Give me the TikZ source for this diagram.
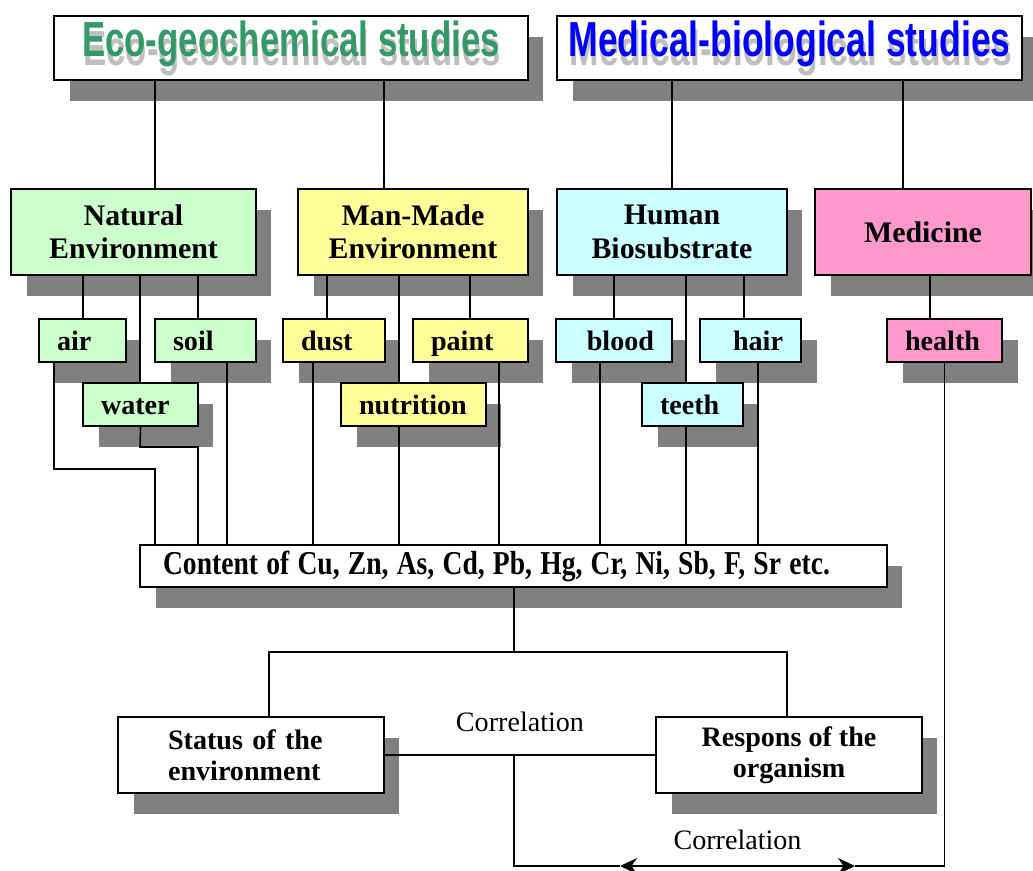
\documentclass[tikz,border=0pt]{standalone}
\usepackage{fontspec}
\setmainfont{Liberation Serif}
\newfontfamily\titlefont{Liberation Sans}
\usetikzlibrary{arrows.meta}
\usetikzlibrary{shadows}
\definecolor{natgreen}{HTML}{CCFFCC}
\definecolor{manyellow}{HTML}{FFFF99}
\definecolor{biocyan}{HTML}{CCFFFF}
\definecolor{medpink}{HTML}{FF99CC}
\definecolor{ecogreen}{HTML}{339966}
\definecolor{medblue}{HTML}{0000FF}
% width, colour, text: narrow heading with a grey text shadow
\newcommand{\embossed}[3]{%
  \resizebox{#1}{\height}{\titlefont\bfseries\fontsize{28}{28}\selectfont
    \rlap{\kern1pt\raisebox{-5pt}{\color{black!25}#3}}{\color{#2}#3}}}

\begin{document}
\begin{tikzpicture}[x=0.02cm, y=-0.02cm, line width=0.9pt, >={Stealth[length=0.34cm, width=0.32cm]}]
  \tikzset{
    box/.style={draw, line width=0.9pt, inner sep=0pt, align=center,
      font=\fontsize{17}{19}\selectfont\bfseries,
      drop shadow={shadow xshift=0.31cm, shadow yshift=-0.42cm, opacity=1, fill=gray}},
    titlebox/.style={box, fill=white, minimum height=1.28cm},
    groupbox/.style={box, minimum width=4.6cm, minimum height=1.72cm},
    leaf/.style={box, font=\fontsize{16}{18}\selectfont\bfseries, minimum height=0.86cm,
      inner xsep=0.36cm, text width=#1, align=left, text height=11pt, text depth=0pt},
    resultbox/.style={box, fill=white, font=\fontsize{16}{17.5}\selectfont\bfseries,
      minimum width=5.32cm, minimum height=1.52cm},
    corrlabel/.style={font=\fontsize{16}{18}\selectfont}
  }
  \useasboundingbox (0,0) rectangle (1033,870);

  % headings
  \node[titlebox, minimum width=9.48cm] (eco) at (291,48) {\embossed{8.36cm}{ecogreen}{Eco-geochemical studies}};
  \node[titlebox, minimum width=9.3cm] (med) at (789.5,48) {\embossed{8.84cm}{medblue}{Medical-biological studies}};

  % groups
  \node[groupbox, minimum width=4.9cm, fill=natgreen] (natenv) at (133.5,232) {Natural\\Environment};
  \node[groupbox, fill=manyellow] (manenv) at (413,232) {Man-Made\\Environment};
  \node[groupbox, fill=biocyan] (humbio) at (672,232) {Human\\Biosubstrate};
  \node[groupbox, minimum width=4.32cm, fill=medpink] (medicine) at (923,232) {Medicine};

  % media
  \node[leaf=1.02cm, fill=natgreen] (air) at (82.5,340.5) {air};
  \node[leaf=1.30cm, fill=natgreen] (soil) at (205.5,340.5) {soil};
  \node[leaf=1.58cm, fill=natgreen] (water) at (140.5,404.5) {water};
  \node[leaf=1.32cm, fill=manyellow] (dust) at (334,340.5) {dust};
  \node[leaf=1.58cm, fill=manyellow] (paint) at (470.5,340.5) {paint};
  \node[leaf=2.18cm, fill=manyellow] (nutrition) at (413.5,404.5) {nutrition};
  \node[leaf=1.60cm, align=right, fill=biocyan] (blood) at (614,340.5) {blood};
  \node[leaf=1.30cm, align=right, fill=biocyan] (hair) at (750.5,340.5) {hair};
  \node[leaf=1.30cm, fill=biocyan] (teeth) at (692.5,404.5) {teeth};
  \node[leaf=1.58cm, fill=medpink] (health) at (944.5,340.5) {health};

  \node[box, fill=white, minimum height=0.84cm, inner xsep=0.46cm, text width=14.02cm, align=left]
    (content) at (513.5,566)
    {\resizebox{13.34cm}{\height}{\fontsize{19}{20}\selectfont Content of Cu, Zn, As, Cd, Pb, Hg, Cr, Ni, Sb, F, Sr etc.}};

  \node[resultbox, inner xsep=1cm, text width=3.32cm, align=left] (status) at (251,755) {Status of the\\environment};
  \node[resultbox] (respons) at (789,755) {Respons of the\\organism};

  % connectors
  \draw (eco.south -| 155,0) -- (natenv.north -| 155,0);
  \draw (eco.south -| 384,0) -- (manenv.north -| 384,0);
  \draw (med.south -| 672,0) -- (humbio.north -| 672,0);
  \draw (med.south -| 903,0) -- (medicine.north -| 903,0);

  \foreach \x/\n in {83/air, 140/water, 198/soil}
    \draw (natenv.south -| \x,0) -- (\n.north -| \x,0);
  \foreach \x/\n in {327/dust, 399/nutrition, 470/paint}
    \draw (manenv.south -| \x,0) -- (\n.north -| \x,0);
  \foreach \x/\n in {614/blood, 686/teeth, 744/hair}
    \draw (humbio.south -| \x,0) -- (\n.north -| \x,0);
  \draw (medicine.south -| 930,0) -- (health.north -| 930,0);

  \draw (air.south -| 54,0) -- (54,469) -| (content.north -| 155,0);
  \draw (water.south) -- (140,447) -| (content.north -| 198,0);
  \foreach \x/\n in {227/soil, 313/dust, 399/nutrition, 499/paint, 600/blood, 686/teeth, 758/hair}
    \draw (\n.south -| \x,0) -- (content.north -| \x,0);

  \coordinate (split) at (514,652);
  \draw (content.south -| split) -- (split);
  \draw (status.north -| 269,0) |- (split) -| (respons.north -| 787,0);
  \draw (status.east) -- node[corrlabel, above=0.33cm] {Correlation} (respons.west);

  \coordinate (arrL) at (620,866);
  \coordinate (arrR) at (855,866);
  \draw (status.east -| split) |- (arrL);
  \draw[<->] (arrL) -- node[corrlabel, above=0.2cm] {Correlation} (arrR);
  \draw (arrR) -| (health.south);
\end{tikzpicture}
\end{document}
